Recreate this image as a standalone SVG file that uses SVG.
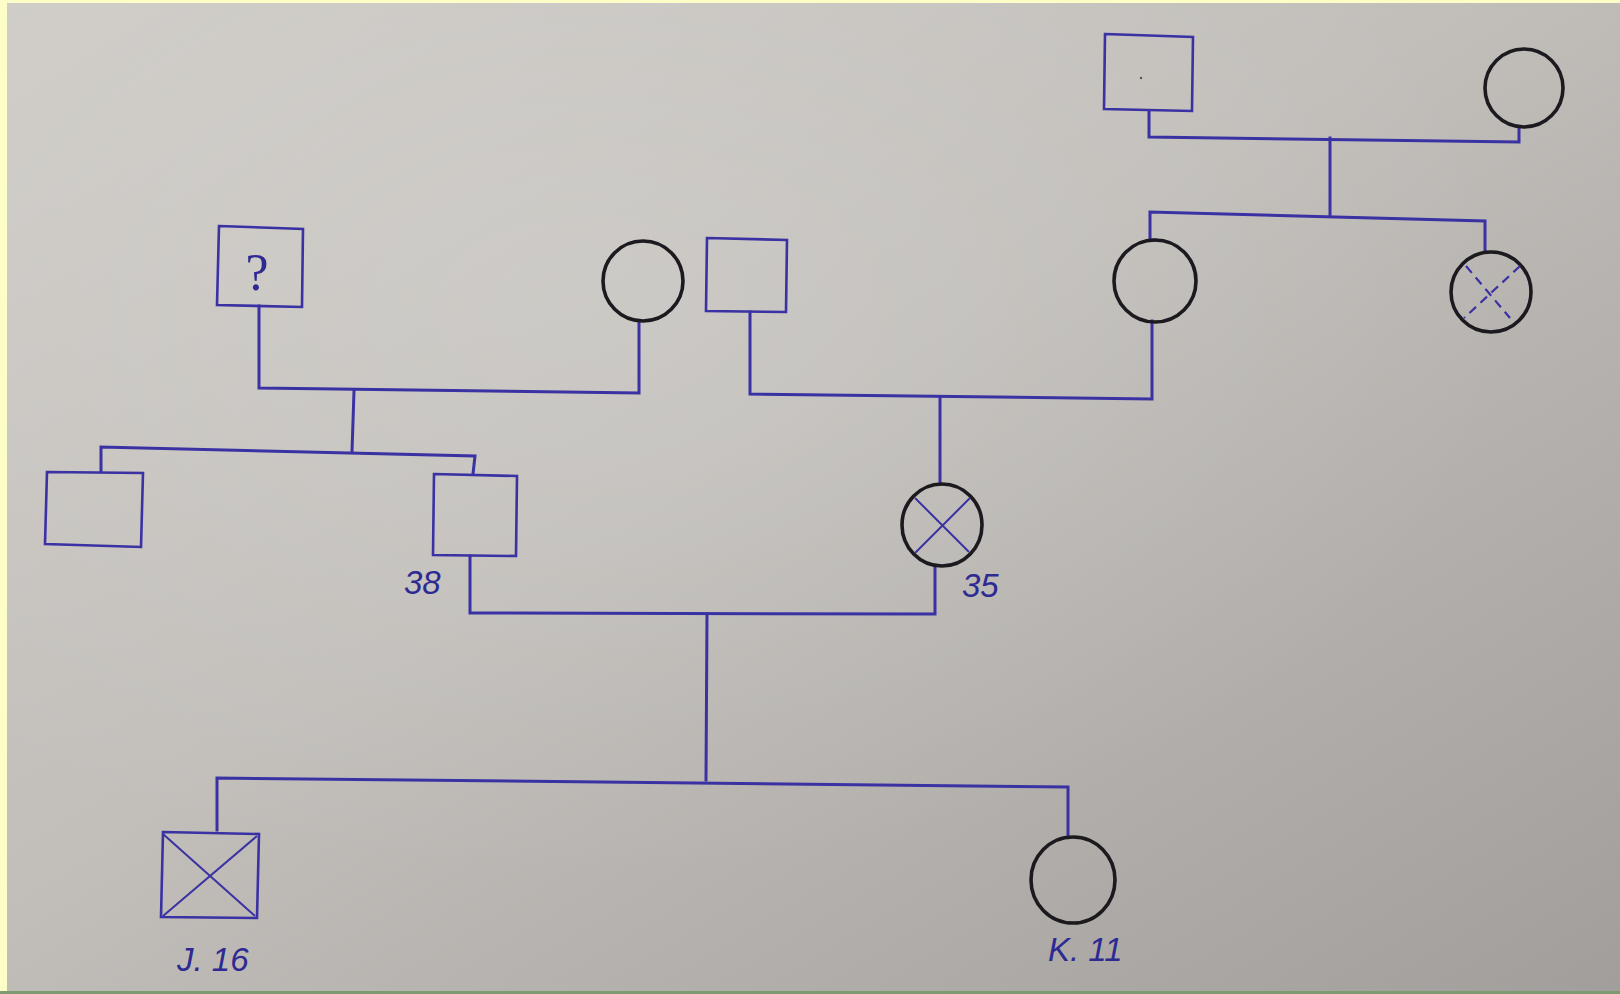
<svg xmlns="http://www.w3.org/2000/svg" width="1620" height="994" viewBox="0 0 1620 994">
<defs>
<linearGradient id="paper" x1="0" y1="0" x2="1" y2="1">
<stop offset="0" stop-color="#cfccc7"/>
<stop offset="0.45" stop-color="#c2bfbb"/>
<stop offset="1" stop-color="#a29e9b"/>
</linearGradient>
<radialGradient id="light" cx="0.35" cy="0.3" r="0.6">
<stop offset="0" stop-color="#ffffff" stop-opacity="0.12"/>
<stop offset="1" stop-color="#ffffff" stop-opacity="0"/>
</radialGradient>
<style>
.ln{fill:none;stroke:#3a31a3;stroke-width:3;stroke-linecap:square}
.sq{fill:none;stroke:#3a31a3;stroke-width:2.6}
.ci{fill:none;stroke:#1c1a1e;stroke-width:3.6}
.x{fill:none;stroke:#3a31a3;stroke-width:2}
.xd{fill:none;stroke:#3a31a3;stroke-width:2.2;stroke-dasharray:9 6}
.lb{font-family:"Liberation Sans",Arial,sans-serif;font-style:italic;fill:#2e2a92;font-size:33px}
.q{font-family:"Liberation Serif",serif;fill:#2e2a92;font-size:52px}
</style>
</defs>
<rect x="0" y="0" width="1620" height="994" fill="#fdfdc8"/>
<rect x="7" y="3" width="1613" height="988" fill="url(#paper)"/>
<rect x="7" y="3" width="1613" height="988" fill="url(#light)"/>
<rect x="0" y="991" width="1620" height="3" fill="#7f9a6e"/>

<g id="connectors">
<polyline class="ln" points="1149,111 1149,137 1519,142 1519,127"/>
<polyline class="ln" points="1330,138 1330,216"/>
<polyline class="ln" points="1155,240 1150,240 1150,212 1485,221 1485,251"/>
<polyline class="ln" points="259,306 259,388 639,393 639,322"/>
<polyline class="ln" points="354,391 352,452"/>
<polyline class="ln" points="101,471 101,447 475,456 473,474"/>
<polyline class="ln" points="750,312 750,394 1152,399 1152,321"/>
<polyline class="ln" points="940,397 940,484"/>
<polyline class="ln" points="470,556 470,613 935,614 935,566"/>
<polyline class="ln" points="707,614 706,780"/>
<polyline class="ln" points="217,830 217,778 1068,787 1068,835"/>
</g>

<g id="n-gf-right"><polygon class="sq" points="1105,34 1193,37 1192,111 1104,109"/><circle cx="1141" cy="78" r="1.2" fill="#555"/></g>
<g id="n-gm-right"><ellipse class="ci" cx="1524" cy="88" rx="39" ry="39"/></g>
<g id="n-mother-gm"><ellipse class="ci" cx="1155" cy="281" rx="41" ry="41"/></g>
<g id="n-aunt"><ellipse class="ci" cx="1491" cy="292" rx="40" ry="40"/><line class="xd" x1="1466" y1="266" x2="1510" y2="318"/><line class="xd" x1="1520" y1="266" x2="1464" y2="318"/></g>
<g id="n-gf-left"><polygon class="sq" points="219,226 303,229 302,307 217,305"/><text class="q" x="257" y="290" text-anchor="middle">?</text></g>
<g id="n-gm-left"><ellipse class="ci" cx="643" cy="281" rx="40" ry="40"/></g>
<g id="n-gf-mid"><polygon class="sq" points="707,238 787,240 786,312 706,311"/></g>
<g id="n-uncle"><polygon class="sq" points="47,472 143,473 141,547 45,544"/></g>
<g id="n-father"><polygon class="sq" points="434,474 517,476 516,556 433,555"/><text class="lb" x="404" y="594">38</text></g>
<g id="n-mother"><ellipse class="ci" cx="942" cy="525" rx="40" ry="41"/><line class="x" x1="915" y1="498" x2="969" y2="552"/><line class="x" x1="970" y1="498" x2="915" y2="553"/><text class="lb" x="962" y="597">35</text></g>
<g id="n-j"><polygon class="sq" points="163,832 259,834 257,918 161,917"/><line class="x" x1="163" y1="834" x2="255" y2="916"/><line class="x" x1="257" y1="836" x2="163" y2="916"/><text class="lb" x="177" y="971">J. 16</text></g>
<g id="n-k"><ellipse class="ci" cx="1073" cy="880" rx="42" ry="43"/><text class="lb" x="1048" y="961">K. 11</text></g>
</svg>
